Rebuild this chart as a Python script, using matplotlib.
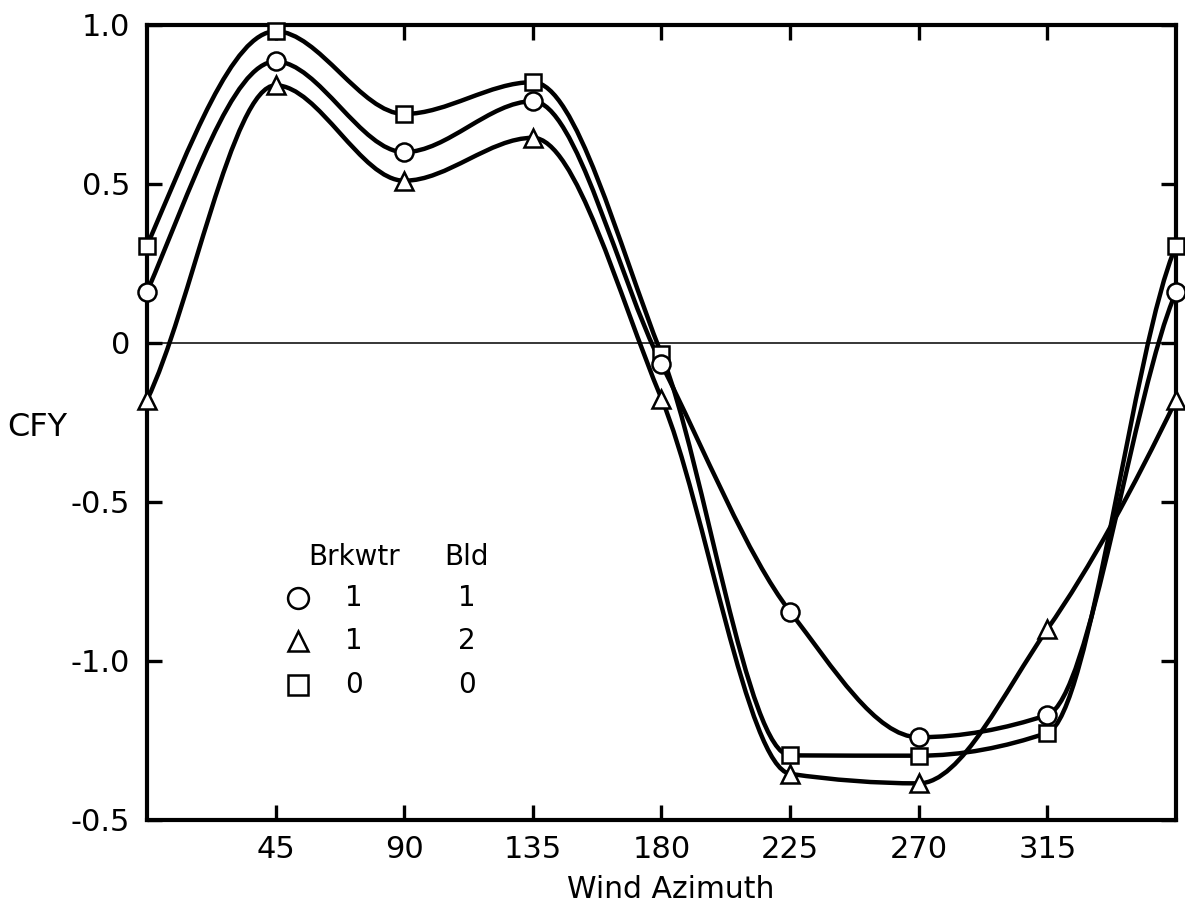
import numpy as np
import matplotlib
matplotlib.use("Agg")
import matplotlib.pyplot as plt
from matplotlib.path import Path
from matplotlib.patches import PathPatch

# values (wind azimuth in degrees, CFY)
azimuth = [0, 45, 90, 135, 180, 225, 270, 315, 360]
cfy_circle = [0.16, 0.885, 0.60, 0.76, -0.067, -0.845, -1.24, -1.17, 0.16]
cfy_triangle = [-0.18, 0.81, 0.51, 0.645, -0.175, -1.355, -1.385, -0.90, -0.18]
cfy_square = [0.305, 0.98, 0.72, 0.82, -0.035, -1.297, -1.298, -1.226, 0.305]

x_ticks = [45, 90, 135, 180, 225, 270, 315]
y_ticks = [-1.5, -1.0, -0.5, 0, 0.5, 1.0]
y_tick_labels = ['-0.5', '-1.0', '-0.5', '0', '0.5', '1.0']

legend_rows = [('o', '1', '1'), ('^', '1', '2'), ('s', '0', '0')]

plt.rcParams['font.family'] = ['DejaVu Sans']


def smooth_path(x, y):
    # shape-preserving (pchip-like) cubic through the points, wrapped at 360
    x = np.asarray(x, float)
    y = np.asarray(y, float)
    n = len(x) - 1
    h = x[1] - x[0]
    s = np.diff(y) / h                      # slopes of each segment
    d = np.zeros(n + 1)
    for i in range(n + 1):
        a = s[(i - 1) % n]
        b = s[i % n]
        if a * b > 0:
            d[i] = 2.0 / (1.0 / a + 1.0 / b)
    verts = [(x[0], y[0])]
    codes = [Path.MOVETO]
    for i in range(n):
        verts += [(x[i] + h / 3, y[i] + h / 3 * d[i]),
                  (x[i + 1] - h / 3, y[i + 1] - h / 3 * d[i + 1]),
                  (x[i + 1], y[i + 1])]
        codes += [Path.CURVE4] * 3
    return Path(verts, codes)


fig = plt.figure(figsize=(11.85, 9.06), dpi=100)
ax = fig.add_axes([0.124, 0.095, 0.8684, 0.8775])

ax.axhline(0, color='black', lw=1.1, zorder=1)

for vals, mk in [(cfy_square, 's'), (cfy_circle, 'o'), (cfy_triangle, '^')]:
    ax.add_patch(PathPatch(smooth_path(azimuth, vals), fill=False,
                           edgecolor='black', lw=3.2, zorder=2))
    ms = 12 if mk == 's' else 13
    ax.plot(azimuth, vals, linestyle='none', marker=mk, ms=ms,
            mfc='white', mec='black', mew=1.8, zorder=3, clip_on=False)

ax.set_xlim(0, 360)
ax.set_ylim(-1.5, 1.0)
ax.set_xticks(x_ticks)
ax.set_yticks(y_ticks)
ax.set_yticklabels(y_tick_labels)
ax.tick_params(direction='in', length=11, width=2.4, top=True, right=True,
               labelsize=22)
ax.tick_params(axis='y', pad=12)
ax.tick_params(axis='x', pad=11)
for sp in ax.spines.values():
    sp.set_linewidth(3.0)

ax.text(0.509, -0.088, 'Wind Azimuth', transform=ax.transAxes,
        ha='center', va='center', fontsize=21.5)
ax.text(-0.107, 0.494, 'CFY', transform=ax.transAxes,
        ha='center', va='center', fontsize=23)

# legend table
ax.text(0.201, 0.331, 'Brkwtr', transform=ax.transAxes, ha='center',
        va='center', fontsize=20)
ax.text(0.311, 0.331, 'Bld', transform=ax.transAxes, ha='center',
        va='center', fontsize=20)
row_y = [0.279, 0.225, 0.170]
for (mk, brk, bld), yy in zip(legend_rows, row_y):
    ax.plot([0.147], [yy], transform=ax.transAxes, marker=mk, ms=15,
            mfc='white', mec='black', mew=1.8, linestyle='none')
    ax.text(0.201, yy, brk, transform=ax.transAxes, ha='center',
            va='center', fontsize=20)
    ax.text(0.311, yy, bld, transform=ax.transAxes, ha='center',
            va='center', fontsize=20)

fig.savefig('out.png', dpi=100)
